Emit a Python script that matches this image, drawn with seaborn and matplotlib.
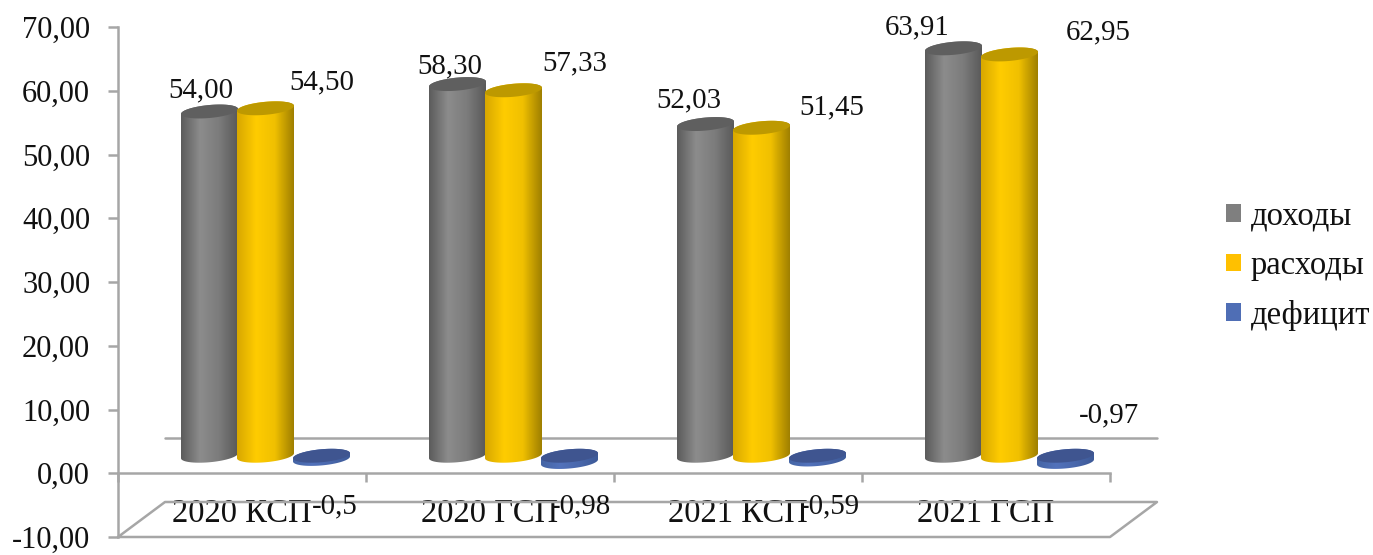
import numpy as np
import pandas as pd
import matplotlib
matplotlib.use("Agg")
import matplotlib.pyplot as plt
import seaborn as sns
from matplotlib.colors import LinearSegmentedColormap
from matplotlib.patches import Polygon

categories = ["2020 КСП", "2020 ГСП", "2021 КСП", "2021 ГСП"]
series_names = ["доходы", "расходы", "дефицит"]
dohody = [54.00, 58.30, 52.03, 63.91]
rashody = [54.50, 57.33, 51.45, 62.95]
deficit = [-0.50, -0.98, -0.59, -0.97]
dohody_labels = ["54,00", "58,30", "52,03", "63,91"]
rashody_labels = ["54,50", "57,33", "51,45", "62,95"]
deficit_labels = ["-0,5", "-0,98", "-0,59", "-0,97"]

W, H = 1373, 555
AX_L, AX_R, AX_T, AX_B = 118, 1110, 27, 537
PX_X = (AX_R - AX_L) / 4
PX_Y = (AX_B - AX_T) / 80
DEPTH_X = 47 / PX_X
DEPTH_Y = 35 / PX_Y
LINE = "#a6a6a6"

# label offsets from the top of each bar, in pixels
offsets = [
    [(-9, 21), (-8, 18), (-17, 24), (-36, 21)],
    [(56, 26), (61, 27), (70, 20), (89, 22)],
    [(13, -51), (11, -51), (12, -51), (44, 40)],
]
shades = [
    (["#5c5c5c", "#8c8c8c", "#7c7c7c", "#5a5a5a"], "#5f5f5f"),
    (["#d8a800", "#ffcc00", "#f0c000", "#a08000"], "#bd9900"),
    (["#4565a5", "#5272bb", "#4a68ac", "#3d5a98"], "#3f5590"),
]

sns.set_style("white")
plt.rcParams["font.family"] = ["Liberation Serif", "DejaVu Sans"]

df = pd.DataFrame({
    "category": categories * 3,
    "series": np.repeat(series_names, 4),
    "value": dohody + rashody + deficit,
})

fig = plt.figure(figsize=(W / 100, H / 100), dpi=100)
ax = fig.add_axes([AX_L / W, 1 - AX_B / H, (AX_R - AX_L) / W, (AX_B - AX_T) / H])
sns.barplot(data=df, x="category", y="value", hue="series", order=categories,
            hue_order=series_names, palette=["#7f7f7f", "#ffc000", "#4f6eb5"],
            saturation=1, width=168 / 248, gap=0, errorbar=None, ax=ax)
ax.set_xlim(-0.5, 3.5)
ax.set_ylim(-10, 70)


def ellipse(cx, cy, a, t):
    # slightly tilted ellipse, as in the 3D view
    return np.column_stack([cx + a * np.cos(t),
                            cy + 6.5 / PX_Y * np.sin(t) + 2.5 / PX_Y * np.cos(t)])


base = DEPTH_Y / 2
z = 3
for container, (stops, cap), labels, offs in zip(
        ax.containers, shades, [dohody_labels, rashody_labels, deficit_labels], offsets):
    cmap = LinearSegmentedColormap.from_list("cyl", stops)
    for bar, label, off in zip(container, labels, offs):
        w = bar.get_width()
        cx = bar.get_x() + w / 2 + DEPTH_X / 2
        val = bar.get_height()
        top = base + max(val, 0)
        bottom = base + min(val, 0)
        a = w / 2 * 57 / 56
        bar.set_visible(False)
        body = Polygon(np.vstack([ellipse(cx, top, a, np.linspace(0, np.pi, 40)),
                                  ellipse(cx, bottom, a, np.linspace(np.pi, 2 * np.pi, 40))]),
                       fc="none", ec="none", zorder=z, transform=ax.transData)
        ax.add_patch(body)
        im = ax.imshow(np.linspace(0, 1, 64)[None, :], cmap=cmap, aspect="auto",
                       extent=(cx - a, cx + a, bottom - 3, top + 3),
                       interpolation="bilinear", zorder=z)
        im.set_clip_path(body)
        ax.add_patch(Polygon(ellipse(cx, top, a, np.linspace(0, 2 * np.pi, 80)),
                             fc=cap, ec="none", zorder=z + 0.1))
        ax.annotate(label, xy=(cx, top), xytext=off, textcoords="offset pixels",
                    ha="center", va="center", fontsize=20.8, color="#111111", zorder=20,
                    annotation_clip=False)
        z += 0.2
    z += 1

ax.set_xlim(-0.5, 3.5)
ax.set_ylim(-10, 70)

# floor and back wall lines
x0, x1 = -0.5, 3.5
ax.plot([x0, x0 + DEPTH_X, x1 + DEPTH_X, x1, x0], [-10, -10 + DEPTH_Y, -10 + DEPTH_Y, -10, -10],
        color=LINE, lw=1.8, clip_on=False, zorder=1)
ax.plot([x0 + DEPTH_X, x1 + DEPTH_X], [DEPTH_Y, DEPTH_Y], color=LINE, lw=1.8, clip_on=False, zorder=1)

ax.set_xlabel("")
ax.set_ylabel("")
ax.set_yticks(np.arange(-10, 71, 10))
ax.set_yticklabels([f"{v:.2f}".replace(".", ",") for v in np.arange(-10, 71, 10)])
ax.set_xticks(np.arange(-0.5, 4), labels=[])
ax.set_xticks(range(4), labels=categories, minor=True)
ax.tick_params(axis="y", length=7, width=1.8, color=LINE, pad=13, labelsize=22, left=True,
               labelcolor="#111111")
ax.tick_params(axis="x", which="major", length=6.5, width=1.8, color=LINE, direction="out", bottom=True)
ax.tick_params(axis="x", which="minor", length=0, pad=18.5, labelsize=23.5, labelcolor="#111111")
for side in ["top", "right"]:
    ax.spines[side].set_visible(False)
for side in ["left", "bottom"]:
    ax.spines[side].set_color(LINE)
    ax.spines[side].set_linewidth(1.8)
ax.spines["bottom"].set_position(("data", 0))
ax.patch.set_alpha(0)

sns.move_legend(ax, "center left", bbox_to_anchor=(1197 / W, 1 - 266 / H),
                bbox_transform=fig.transFigure, title=None, frameon=False,
                fontsize=23.5, handlelength=0.46, handleheight=0.46,
                labelspacing=0.58, handletextpad=0.28, labelcolor="#111111")
for handle in ax.get_legend().legend_handles:
    handle.set_linewidth(0)

fig.savefig("out.png", dpi=100)
